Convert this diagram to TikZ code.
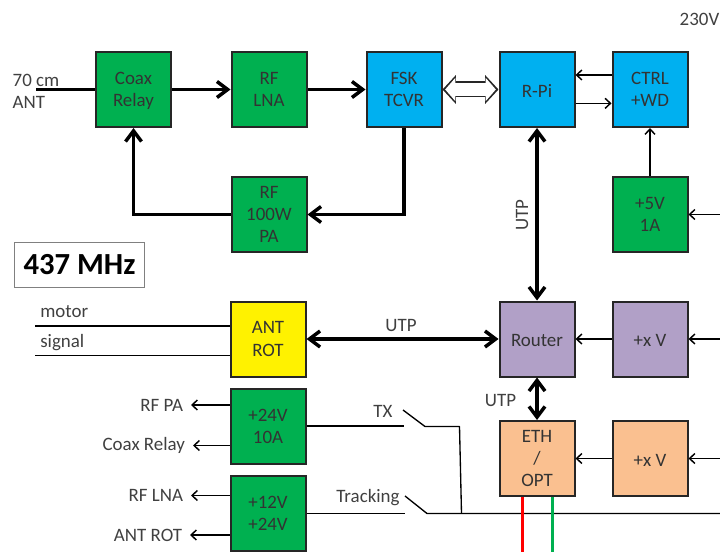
\documentclass[tikz,border=0pt]{standalone}
\usepackage{fontspec}
\setmainfont{Carlito}
\usetikzlibrary{arrows.meta}
\definecolor{boxgreen}{HTML}{00B050}
\definecolor{boxblue}{HTML}{00B0F0}
\definecolor{boxpurple}{HTML}{B1A0C7}
\definecolor{boxorange}{HTML}{FAC090}
\definecolor{labelgray}{HTML}{404040}
\begin{document}
\begin{tikzpicture}[x=0.75pt, y=-0.75pt, rf/.style={line width=2.6pt, -{Straight Barb[length=8pt,width=12pt]}}, rfboth/.style={line width=2.6pt, {Straight Barb[length=8pt,width=12pt]}-{Straight Barb[length=8pt,width=12pt]}}, power/.style={line width=1.1pt, -{Straight Barb[length=4pt,width=7.5pt]}}, wire/.style={line width=1pt, line join=round}]
	\tikzstyle{box}=[rectangle,draw=black!85,line width=1.5pt,minimum size=56.25pt,inner sep=0pt,align=center,text=black!80,text depth=-1.5pt,font=\fontsize{14.2}{16.8}\selectfont,execute at begin node={\rule{0pt}{11.5pt}}]
	\tikzstyle{tag}=[inner sep=0pt,text=labelgray,align=left,font=\fontsize{14.2}{16.8}\selectfont]
	\tikzstyle{load}=[tag,anchor=east,outer sep=6pt]

	\useasboundingbox (0,0) rectangle (720,552);

	\node (Coax) [box, fill=boxgreen] at (133.5,89.5) {Coax\\Relay};
	\node (Lna) [box, fill=boxgreen] at (269,89.5) {RF\\LNA};
	\node (Fsk) [box, fill=boxblue] at (404,89.5) {FSK\\TCVR};
	\node (Rpi) [box, fill=boxblue] at (537,89.5) {R-Pi};
	\node (Ctrl) [box, fill=boxblue] at (650,89.5) {CTRL\\+WD};
	\node (Pa) [box, fill=boxgreen] at (269,214.5) {RF\\100W\\PA};
	\node (Five) [box, fill=boxgreen] at (650,214.5) {+5V\\1A};
	\node (Rot) [box, fill=yellow] at (268,339) {ANT\\ROT};
	\node (Router) [box, fill=boxpurple] at (537,339) {Router};
	\node (SupplyA) [box, fill=boxpurple] at (650,339) {+x V};
	\node (Psu24) [box, fill=boxgreen] at (268,426.5) {+24V\\10A};
	\node (Psu12) [box, fill=boxgreen] at (268,513.5) {+12V\\+24V};
	\node (Eth) [box, fill=boxorange] at (537,458.5) {ETH\\/\\OPT};
	\node (SupplyB) [box, fill=boxorange] at (650,458.5) {+x V};

	\node (Freq) [draw=black!50, line width=0.9pt, minimum width=130pt*0.75, minimum height=45pt*0.75, inner sep=0pt, font=\fontsize{23}{27}\selectfont\bfseries] at (79.5,265) {437 MHz};
	\node (Mains) [tag] at (699.5,19) {230V};
	\node (Ant) [tag] at (36,91.5) {70 cm\\ANT};
	\node (Motor) [tag, anchor=west] at (40,312) {motor};
	\node (Signal) [tag, anchor=west] at (40,343) {signal};
	\node (UtpA) [tag, rotate=90] at (522,215) {UTP};
	\node (UtpB) [tag] at (401,325.5) {UTP};
	\node (UtpC) [tag] at (500.5,400.5) {UTP};
	\node (Tx) [tag] at (383,411.5) {TX};
	\node (Track) [tag] at (368,497.5) {Tracking};
	\node (RfPa) [load] at (191,405) {RF PA};
	\node (CoaxLoad) [load] at (193,445.5) {Coax Relay};
	\node (RfLna) [load] at (191,495.5) {RF LNA};
	\node (RotLoad) [load] at (190,535) {ANT ROT};

	\coordinate (AntEnd) at (36,89.5);
	\coordinate (MotorEnd) at (35,326);
	\coordinate (SignalEnd) at (35,355.5);
	\coordinate (FiveIn) at (720,214.5);
	\coordinate (SupplyAIn) at (720,339);
	\coordinate (SupplyBIn) at (720,458.5);
	\coordinate (TxOpen) at (404,426);
	\coordinate (TxBlade) at (403,410);
	\coordinate (TxPivot) at (425,426.5);
	\coordinate (TxCorner) at (459.5,426.5);
	\coordinate (TxJoin) at (461.5,513.5);
	\coordinate (TrackOpen) at (405,513.5);
	\coordinate (TrackBlade) at (405,496);
	\coordinate (TrackPivot) at (427,513.5);
	\coordinate (BusEnd) at (720,513.5);
	\coordinate (RedEnd) at (522.5,552);
	\coordinate (GreenEnd) at (552.5,552);

	\draw [line width=2.6pt] (AntEnd) -- (Coax.west);
	\draw [rf] (Coax.east) -- (Lna.west);
	\draw [rf] (Lna.east) -- (Fsk.west);
	\draw [rf] (Fsk.south) |- (Pa.east);
	\draw [rf] (Pa.west) -| (Coax.south);
	\draw [rfboth] (Rpi.south) -- (Router.north);
	\draw [rfboth] (Rot.east) -- (Router.west);
	\draw [rfboth] (Router.south) -- (Eth.north);

	\draw [line width=12pt, {Triangle[length=10pt,width=21pt]}-{Triangle[length=10pt,width=21pt]}, black!85] (Fsk.east) -- (Rpi.west);
	\draw [line width=9.6pt, {Triangle[length=7.6pt,width=17pt]}-{Triangle[length=7.6pt,width=17pt]}, white, shorten <=2pt, shorten >=2pt] (Fsk.east) -- (Rpi.west);

	\draw [power] ([yshift=10.9pt]Ctrl.west) -- ([yshift=10.9pt]Rpi.east);
	\draw [power] ([yshift=-10.4pt]Rpi.east) -- ([yshift=-10.4pt]Ctrl.west);
	\draw [power] (Five.north) -- (Ctrl.south);
	\draw [power] (FiveIn) -- (Five.east);
	\draw [power] (SupplyAIn) -- (SupplyA.east);
	\draw [power] (SupplyBIn) -- (SupplyB.east);
	\draw [power] (SupplyA.west) -- (Router.east);
	\draw [power] (SupplyB.west) -- (Eth.east);

	\draw [wire] (MotorEnd) -- (MotorEnd -| Rot.west);
	\draw [wire] (SignalEnd) -- (SignalEnd -| Rot.west);
	\draw [power] (RfPa -| Psu24.west) -- (RfPa.east);
	\draw [power] (CoaxLoad -| Psu24.west) -- (CoaxLoad.east);
	\draw [power] (RfLna -| Psu12.west) -- (RfLna.east);
	\draw [power] (RotLoad -| Psu12.west) -- (RotLoad.east);

	\draw [wire] (TxOpen -| Psu24.east) -- (TxOpen);
	\draw [wire] (TxBlade) -- (TxPivot) -- (TxCorner) -- (TxJoin);
	\draw [wire] (TrackOpen -| Psu12.east) -- (TrackOpen);
	\draw [wire] (TrackBlade) -- (TrackPivot) -- (BusEnd);

	\draw [line width=2.2pt, red] (Eth.south -| RedEnd) -- (RedEnd);
	\draw [line width=2.2pt, boxgreen] (Eth.south -| GreenEnd) -- (GreenEnd);
\end{tikzpicture}
\end{document}
